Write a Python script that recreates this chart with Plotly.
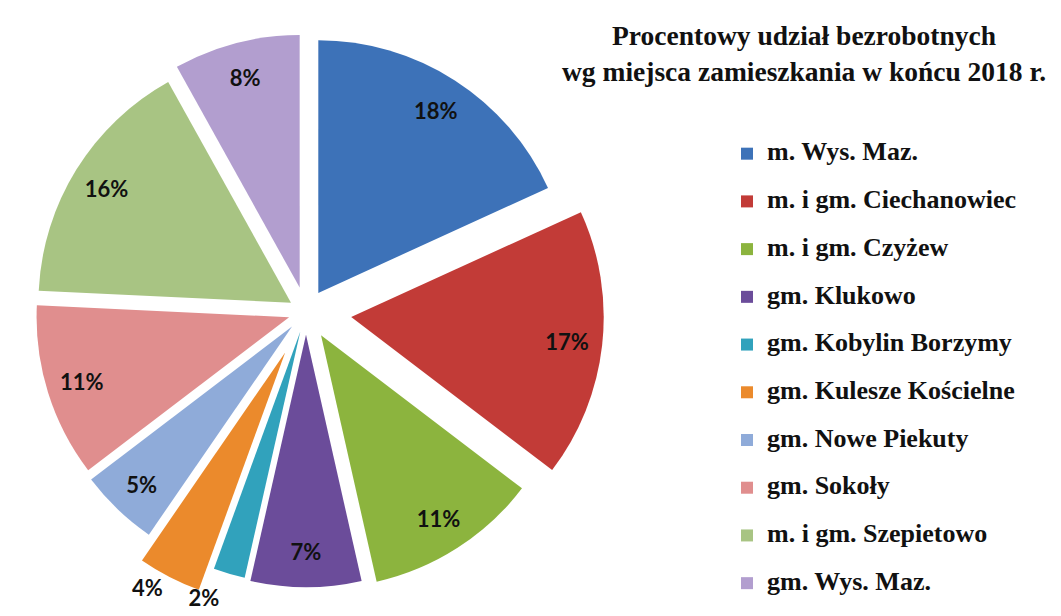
import plotly.graph_objects as go

categories = ["m. Wys. Maz.", "m. i gm. Ciechanowiec", "m. i gm. Czyżew", "gm. Klukowo",
              "gm. Kobylin Borzymy", "gm. Kulesze Kościelne", "gm. Nowe Piekuty",
              "gm. Sokoły", "m. i gm. Szepietowo", "gm. Wys. Maz."]
shares = [18, 17, 11, 7, 2, 4, 5, 11, 16, 8]
colors = ["#3D72B8", "#C23B37", "#8CB43E", "#6B4C9A", "#31A2BC",
          "#EB8A2C", "#8FABD9", "#E08E8E", "#A8C483", "#B29ECF"]
pulls = [0.09, 0.18, 0.11, 0.09, 0.08, 0.18, 0.08, 0.07, 0.07, 0.10]
# slices whose percentage label sits outside the pie, and how far out the label goes
outside_idx = [4, 5]
outside_label_pull = [0.125, 0.18]

W, H = 1061, 616
mt, mb = 4, 12

legend_labels = [f"<span style='font-size:26px'>{c}</span><br> " for c in categories]
texts = [f"{v}%" for v in shares]
n = len(shares)
clear = ["rgba(0,0,0,0)"] * n

common = dict(
    labels=legend_labels,
    values=shares,
    sort=False,
    direction="clockwise",
    rotation=0,
    text=texts,
    textinfo="text",
    insidetextorientation="horizontal",
    textfont=dict(family="Lato", size=22, color="#111111", weight="bold"),
    domain=dict(x=[0, 596 / W], y=[0, 1]),
    automargin=False,
)

# main pie (slices + legend)
traces = [go.Pie(marker=dict(colors=colors, line=dict(width=0)), pull=pulls,
                 textposition="none", hoverinfo="label+percent", **common)]

# transparent ring overlay: puts the inside labels toward the outer part of each slice
in_pos = ["none" if i in outside_idx else "inside" for i in range(n)]
traces.append(go.Pie(marker=dict(colors=clear, line=dict(width=0)), pull=pulls, hole=0.72,
                     textposition=in_pos, showlegend=False, hoverinfo="skip", **common))

# one transparent overlay per outside label, so labels are placed independently
imax = pulls.index(max(pulls))
for k, lp in zip(outside_idx, outside_label_pull):
    pos = ["outside" if i == k else "none" for i in range(n)]
    opull = [0.0] * n
    opull[imax] = max(pulls)   # keeps the same radius as the main pie
    opull[k] = lp
    traces.append(go.Pie(marker=dict(colors=clear, line=dict(width=0)),
                         pull=opull, textposition=pos, showlegend=False,
                         hoverinfo="skip", **common))

fig = go.Figure(traces)

fig.update_layout(
    width=W, height=H,
    margin=dict(l=0, r=0, t=mt, b=mb, autoexpand=False),
    paper_bgcolor="white",
    plot_bgcolor="white",
    showlegend=True,
    legend=dict(
        x=719 / W, xanchor="left",
        y=1 - (128 - mt) / (H - mt - mb), yanchor="top",
        font=dict(family="Liberation Serif", size=17.2, color="#111111", weight="bold"),
        valign="top",
        maxheight=610,
        bgcolor="rgba(0,0,0,0)",
    ),
    annotations=[dict(
        text="Procentowy udział bezrobotnych<br>wg miejsca zamieszkania w końcu 2018 r.",
        x=796 / W, xref="paper", xanchor="center", align="center",
        y=1 - (10 - mt) / (H - mt - mb), yref="paper", yanchor="top",
        showarrow=False,
        font=dict(family="Liberation Serif", size=27.5, color="#111111", weight="bold"),
    )],
)

fig.write_html("out.html")
